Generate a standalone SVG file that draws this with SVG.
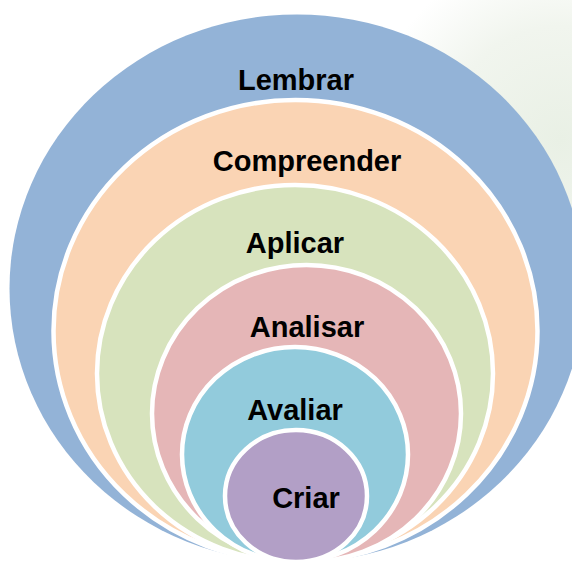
<svg xmlns="http://www.w3.org/2000/svg" width="572" height="564" viewBox="0 0 572 564">
  <defs>
    <radialGradient id="bg" cx="560" cy="140" r="190" gradientUnits="userSpaceOnUse">
      <stop offset="0" stop-color="#e9f0e5"/>
      <stop offset="0.6" stop-color="#f1f5ee"/>
      <stop offset="1" stop-color="#ffffff"/>
    </radialGradient>
    <style>
      .ring { stroke: #ffffff; stroke-width: 4.5; }
      .lbl { font-family: "Liberation Sans", Arial, sans-serif; font-weight: bold; font-size: 29px; fill: #000000; text-anchor: middle; }
    </style>
  </defs>
  <rect x="0" y="0" width="572" height="564" fill="#ffffff"/>
  <rect x="380" y="0" width="192" height="380" fill="url(#bg)"/>

  <g id="lembrar">
    <ellipse cx="297" cy="288.5" rx="287.5" ry="274" fill="#93b3d7"/>
    <text class="lbl" x="296" y="90">Lembrar</text>
  </g>
  <g id="compreender">
    <ellipse class="ring" cx="295.5" cy="331" rx="242" ry="231" fill="#fad4b4"/>
    <text class="lbl" x="307" y="171">Compreender</text>
  </g>
  <g id="aplicar">
    <ellipse class="ring" cx="295" cy="373.5" rx="198" ry="188.5" fill="#d7e3bd"/>
    <text class="lbl" x="295" y="253">Aplicar</text>
  </g>
  <g id="analisar">
    <ellipse class="ring" cx="306.5" cy="413.5" rx="154.5" ry="148.5" fill="#e5b6b7"/>
    <text class="lbl" x="307" y="337">Analisar</text>
  </g>
  <g id="avaliar">
    <ellipse class="ring" cx="295" cy="454.5" rx="113" ry="107.5" fill="#92cbdc"/>
    <text class="lbl" x="295" y="420">Avaliar</text>
  </g>
  <g id="criar">
    <ellipse class="ring" cx="296" cy="496" rx="71" ry="66" fill="#b29fc6"/>
    <text class="lbl" x="306" y="508">Criar</text>
  </g>
  <g id="connectors"/>
</svg>
